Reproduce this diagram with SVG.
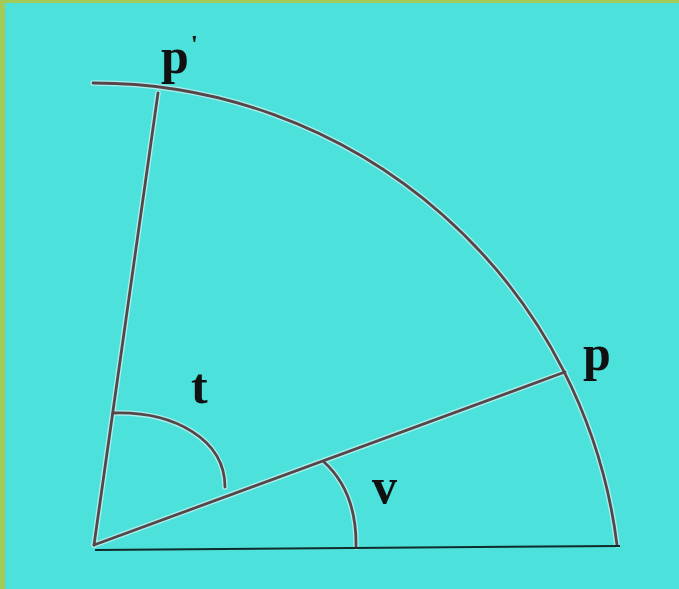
<svg xmlns="http://www.w3.org/2000/svg" width="679" height="589" viewBox="0 0 679 589">
<style>
.halo{fill:none;stroke:#eef8f8;stroke-width:5.5;stroke-linecap:round;opacity:0.6}
.ln{fill:none;stroke:#55464a;stroke-width:2.8;stroke-linecap:round}
.base{fill:none;stroke:#0f2b2b;stroke-width:2}
.lbl{font-family:"Liberation Serif","Times New Roman",serif;font-weight:bold;fill:#111;font-size:50px}
</style>
<rect x="0" y="0" width="679" height="589" fill="#4de1dc"/>
<rect x="0" y="0" width="5" height="589" fill="#a3c957"/>
<rect x="0" y="0" width="679" height="3" fill="#a3c957"/>
<g id="connectors">
<g class="halo">
<path d="M93,83 A527,527 0 0 1 617,545"/>
<path d="M94,545 L158,93"/>
<path d="M94,545 L565,372"/>
<path d="M113,413 C175,411 225,440 225,487"/>
<path d="M324,462 Q357,492 356,547"/>
</g>
<g class="ln">
<path d="M93,83 A527,527 0 0 1 617,545"/>
<path d="M94,545 L158,93"/>
<path d="M94,545 L565,372"/>
<path d="M113,413 C175,411 225,440 225,487"/>
<path d="M324,462 Q357,492 356,547"/>
</g>
<path class="base" d="M95,550 L620,546"/>
</g>
<g id="label-p-prime"><text class="lbl" x="161" y="73">p<tspan font-size="26" dx="2" dy="-20">'</tspan></text></g>
<g id="label-p"><text class="lbl" x="583" y="370">p</text></g>
<g id="label-t"><text class="lbl" x="191" y="403" font-size="54">t</text></g>
<g id="label-v"><text class="lbl" x="372" y="503">v</text></g>
</svg>
